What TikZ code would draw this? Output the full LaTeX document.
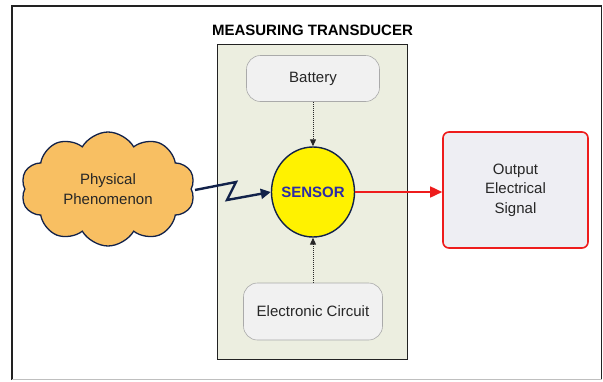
\documentclass[tikz,border=0pt]{standalone}
\usepackage{fontspec}
\setmainfont{Liberation Sans}
\usetikzlibrary{shapes.symbols,shapes.geometric,arrows.meta}
\definecolor{framec}{HTML}{222222}
\definecolor{greenbg}{HTML}{ECEEE0}
\definecolor{boxfill}{HTML}{F1F1F1}
\definecolor{boxline}{HTML}{AAAAAA}
\definecolor{cloudfill}{HTML}{F8BF62}
\definecolor{navy}{HTML}{12224A}
\definecolor{sensorblue}{HTML}{2B2BA6}
\definecolor{outfill}{HTML}{EEEEF3}
\definecolor{redc}{HTML}{EE1C1C}
\tikzset{
  softbox/.style={draw=boxline, fill=boxfill, rounded corners=14pt, line width=0.6pt,
    minimum width=133pt, minimum height=46pt, font=\fontsize{15}{19}\selectfont, text=black!85},
  dotarrow/.style={densely dotted, line width=1pt, -{Triangle[length=7pt,width=6pt]}, black!85},
}
\begin{document}
\begin{tikzpicture}[x=1pt,y=-1pt]
\useasboundingbox (0,0) rectangle (603,381);
\fill[white] (0,0) rectangle (603,381);
% outer frame
\draw[framec, line width=1.3pt] (12,380) -- (12,6) -- (601.5,6) -- (601.5,380);
\draw[black!25, line width=1pt] (12,379.5) -- (601.5,379.5);
% transducer box
\node[draw=framec, fill=greenbg, line width=1.1pt, minimum width=190pt, minimum height=315pt, anchor=north west, inner sep=0] (tbox) at (217,44) {};
\node[font=\bfseries\fontsize{15}{18}\selectfont] (title) at (312.5,30) {MEASURING TRANSDUCER};
% battery & circuit
\node[softbox] (bat) at (313,78.5) {Battery};
\node[softbox, minimum width=139pt, minimum height=57pt] (circ) at (313,311.5) {Electronic Circuit};
% sensor
\node[ellipse, draw=navy, fill=yellow, line width=1.4pt, minimum width=83pt, minimum height=90pt, inner xsep=-8pt, inner ysep=0pt,
  font=\bfseries\fontsize{15}{18}\selectfont, text=sensorblue] (sensor) at (313,192) {SENSOR};
% cloud
\node[cloud, cloud puffs=10, cloud puff arc=120, cloud ignores aspect, draw=navy, fill=cloudfill, line width=1.3pt,
  minimum width=174pt, minimum height=114pt, inner sep=0, align=center,
  font=\fontsize{15}{20}\selectfont, text=black!85] (phys) at (108,189) {Physical\\Phenomenon};
% output
\node[draw=redc, fill=outfill, line width=1.6pt, rounded corners=6pt, minimum width=145pt, minimum height=116pt,
  align=center, font=\fontsize{15}{19.5}\selectfont, text=black!85] (out) at (515.5,190) {Output\\Electrical\\Signal};
% connectors
\coordinate (z0) at (195,190);
\coordinate (z1) at (236,182);
\coordinate (z2) at (227,200);
\draw[navy, line width=2.4pt, line join=miter, -{Triangle[length=10pt,width=10pt]}] (z0) -- (z1) -- (z2) -- (sensor.west);
\draw[redc, line width=1.6pt, -{Triangle[length=12pt,width=11pt]}] (sensor.east) -- (sensor.east -| out.west);
\draw[dotarrow] (bat.south) -- (sensor.north);
\draw[dotarrow] (circ.north) -- (sensor.south);
\end{tikzpicture}
\end{document}
